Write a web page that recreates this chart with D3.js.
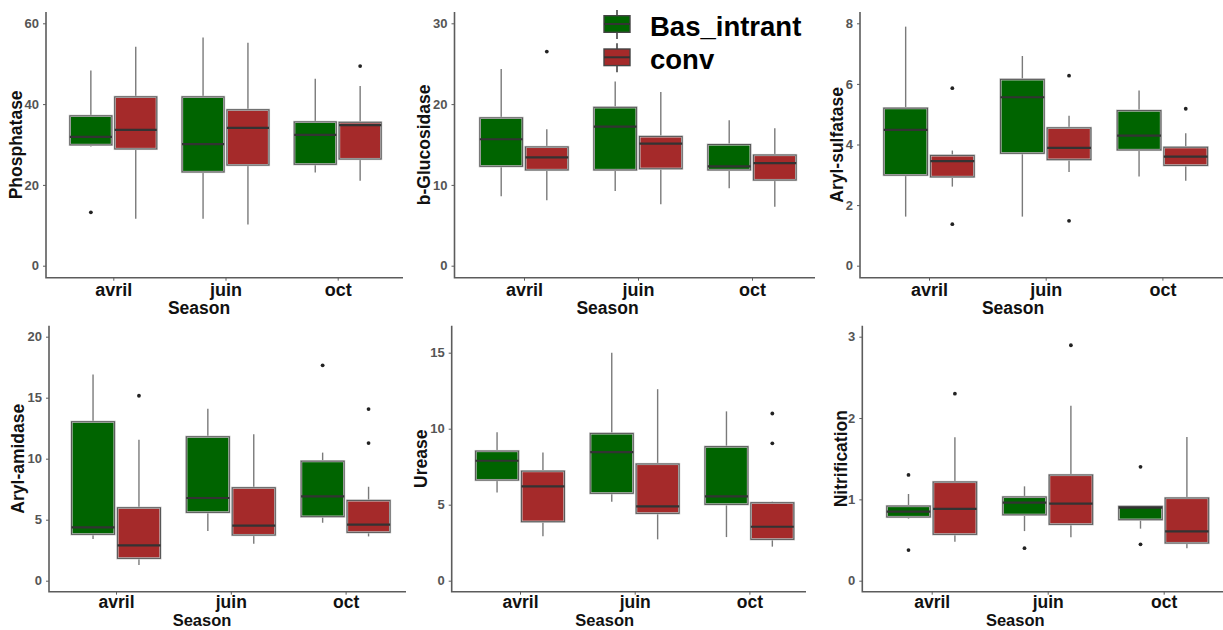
<!DOCTYPE html>
<html>
<head>
<meta charset="utf-8">
<script src="https://cdn.jsdelivr.net/npm/d3@7"></script>
<style>
  body { margin: 0; background: #fff; }
  svg { display: block; }
  text { font-family: "Liberation Sans", Arial, sans-serif; }
</style>
</head>
<body>
<svg id="chart" width="1223" height="630"></svg>
<script>
// ---- categories ----
const seasons = ["avril", "juin", "oct"];
const systems = ["Bas_intrant", "conv"];
const enzymes = ["Phosphatase", "b-Glucosidase", "Aryl-sulfatase", "Aryl-amidase", "Urease", "Nitrification"];

// ---- box statistics: [lower whisker, Q1, median, Q3, upper whisker], one row per season ----
const phosphataseBas  = [[29.5, 29.9, 31.9, 37.1, 48.3], [11.6, 23.2, 30.1, 41.8, 56.5], [23.1, 25.1, 32.4, 35.6, 46.3]];
const phosphataseConv = [[11.6, 28.9, 33.6, 41.8, 54.2], [10.2, 24.9, 34.1, 38.6, 55.2], [21.0, 26.4, 34.8, 35.5, 44.5]];
const glucosidaseBas  = [[8.6, 12.3, 15.65, 18.3, 24.35], [9.25, 11.85, 17.2, 19.6, 22.8], [9.6, 11.85, 12.3, 15.0, 18.0]];
const glucosidaseConv = [[8.1, 11.85, 13.4, 14.7, 16.9], [7.6, 12.0, 15.1, 16.0, 21.5], [7.3, 10.6, 12.7, 13.7, 17.0]];
const sulfataseBas    = [[1.62, 2.99, 4.48, 5.2, 7.89], [1.62, 3.71, 5.56, 6.15, 6.92], [2.94, 3.82, 4.29, 5.12, 5.78]];
const sulfataseConv   = [[2.61, 2.93, 3.45, 3.64, 3.8], [3.09, 3.5, 3.89, 4.55, 4.95], [2.8, 3.31, 3.6, 3.91, 4.37]];
const amidaseBas      = [[3.42, 3.8, 4.37, 13.03, 16.9], [4.07, 5.6, 6.78, 11.8, 14.1], [4.75, 5.25, 6.91, 9.8, 10.5]];
const amidaseConv     = [[1.28, 1.83, 2.9, 5.98, 11.56], [3.03, 3.74, 4.51, 7.62, 12.0], [3.63, 3.96, 4.59, 6.58, 7.7]];
const ureaseBas       = [[5.81, 6.62, 7.89, 8.53, 9.76], [5.2, 5.75, 8.46, 9.69, 15.0], [2.87, 5.02, 5.55, 8.82, 11.14]];
const ureaseConv      = [[2.92, 3.88, 6.21, 7.21, 8.44], [2.72, 4.43, 4.89, 7.68, 12.6], [2.24, 2.72, 3.55, 5.13, 5.2]];
const nitrifBas       = [[0.763, 0.783, 0.849, 0.918, 1.066], [0.61, 0.81, 0.96, 1.03, 1.16], [0.64, 0.75, 0.898, 0.914, 0.914]];
const nitrifConv      = [[0.48, 0.57, 0.882, 1.214, 1.763], [0.533, 0.693, 0.947, 1.30, 2.15], [0.40, 0.463, 0.607, 1.017, 1.767]];

// ---- outliers: [season, system, value] ----
const phosphataseOut = [["avril", "Bas_intrant", 13.2], ["oct", "conv", 49.4]];
const glucosidaseOut = [["avril", "conv", 26.5]];
const sulfataseOut   = [["avril", "conv", 5.86], ["avril", "conv", 1.37], ["juin", "conv", 6.27], ["juin", "conv", 1.48], ["oct", "conv", 5.18]];
const amidaseOut     = [["oct", "Bas_intrant", 17.65], ["avril", "conv", 15.16], ["oct", "conv", 14.07], ["oct", "conv", 11.28]];
const ureaseOut      = [["oct", "conv", 11.0], ["oct", "conv", 9.04]];
const nitrifOut      = [["avril", "Bas_intrant", 1.30], ["avril", "Bas_intrant", 0.377], ["juin", "Bas_intrant", 0.40],
                        ["oct", "Bas_intrant", 1.40], ["oct", "Bas_intrant", 0.447], ["avril", "conv", 2.30], ["juin", "conv", 2.895]];

// ---- y tick labels per panel ----
const phosphataseTicks = [0, 20, 40, 60];
const glucosidaseTicks = [0, 10, 20, 30];
const sulfataseTicks   = [0, 2, 4, 6, 8];
const amidaseTicks     = [0, 5, 10, 15, 20];
const ureaseTicks      = [0, 5, 10, 15];
const nitrifTicks      = [0, 1, 2, 3];

// ---- styling ----
const fillColors = { "Bas_intrant": "#006400", "conv": "#A52A2A" };
const axisColor = "#5c5c5c";

// panel layout (pixels): y-axis x, first category x, category step, x-axis end,
// axis top, x-axis y, y pixel of 0, y pixel of the top tick
const layout = [
  { ax: 46,    first: 113.3, step: 112.2, right: 403,  top: 12,    base: 277.7, zeroY: 265.7, topY: 23.3 },
  { ax: 454.5, first: 524,   step: 114,   right: 815,  top: 12,    base: 277.7, zeroY: 265.7, topY: 23.3 },
  { ax: 860,   first: 929,   step: 116.7, right: 1223, top: 12,    base: 277.7, zeroY: 265.7, topY: 23.3 },
  { ax: 49,    first: 116,   step: 114.8, right: 406,  top: 325.7, base: 591.7, zeroY: 580.7, topY: 336.7 },
  { ax: 451.7, first: 520,   step: 114.7, right: 806,  top: 325.7, base: 591.7, zeroY: 580.7, topY: 352.7 },
  { ax: 862.3, first: 931.7, step: 116,   right: 1223, top: 325.7, base: 591.7, zeroY: 580.7, topY: 336.7 }
];
// baseline x of the rotated y-axis titles
const titleBaseX = [21.5, 430, 843, 23.5, 426.5, 846.5];
// x-axis text per row: tick padding, tick label size, title gap below the axis, title size
const xText = [
  { pad: 3, size: 18, gap: 36, title: 17.5 },
  { pad: 3, size: 18, gap: 36, title: 17.5 },
  { pad: 3, size: 18, gap: 36, title: 17.5 },
  { pad: 0.5, size: 17.5, gap: 34.5, title: 16.5 },
  { pad: 0.5, size: 17.5, gap: 34.5, title: 16.5 },
  { pad: 0.5, size: 17.5, gap: 34.5, title: 16.5 }
];

const panels = [
  { name: enzymes[0], bas: phosphataseBas, conv: phosphataseConv, out: phosphataseOut, ticks: phosphataseTicks },
  { name: enzymes[1], bas: glucosidaseBas, conv: glucosidaseConv, out: glucosidaseOut, ticks: glucosidaseTicks },
  { name: enzymes[2], bas: sulfataseBas,   conv: sulfataseConv,   out: sulfataseOut,   ticks: sulfataseTicks },
  { name: enzymes[3], bas: amidaseBas,     conv: amidaseConv,     out: amidaseOut,     ticks: amidaseTicks },
  { name: enzymes[4], bas: ureaseBas,      conv: ureaseConv,      out: ureaseOut,      ticks: ureaseTicks },
  { name: enzymes[5], bas: nitrifBas,      conv: nitrifConv,      out: nitrifOut,      ticks: nitrifTicks }
];

const svg = d3.select("#chart");
svg.append("rect").attr("width", 1223).attr("height", 630).attr("fill", "#fff");

panels.forEach((p, i) => {
  const L = layout[i];
  const T = xText[i];
  const g = svg.append("g");

  const x = d3.scalePoint().domain(seasons).range([L.first, L.first + 2 * L.step]);
  const dodge = d3.scaleBand().domain(systems).range([-0.4 * L.step, 0.4 * L.step]);
  const boxW = 0.375 * L.step;
  const topTick = p.ticks[p.ticks.length - 1];
  const y = d3.scaleLinear().domain([0, topTick]).range([L.zeroY, L.topY]);

  const cxOf = (season, system) => x(season) + dodge(system) + dodge.bandwidth() / 2;

  // boxes
  systems.forEach(sys => {
    const stats = sys === "conv" ? p.conv : p.bas;
    seasons.forEach((s, si) => {
      const [lo, q1, med, q3, hi] = stats[si];
      const cx = cxOf(s, sys);
      const bg = g.append("g");
      bg.append("line").attr("x1", cx).attr("x2", cx).attr("y1", y(q3)).attr("y2", y(hi))
        .attr("stroke", "#7a7a7a").attr("stroke-width", 1.4);
      bg.append("line").attr("x1", cx).attr("x2", cx).attr("y1", y(q1)).attr("y2", y(lo))
        .attr("stroke", "#7a7a7a").attr("stroke-width", 1.4);
      bg.append("rect").attr("x", cx - boxW / 2).attr("y", y(q3))
        .attr("width", boxW).attr("height", y(q1) - y(q3))
        .attr("fill", fillColors[sys]).attr("stroke", "#c8c8c8").attr("stroke-width", 2.2);
      bg.append("rect").attr("x", cx - boxW / 2).attr("y", y(q3))
        .attr("width", boxW).attr("height", y(q1) - y(q3))
        .attr("fill", "none").attr("stroke", "#555").attr("stroke-width", 1);
      bg.append("line").attr("x1", cx - boxW / 2).attr("x2", cx + boxW / 2)
        .attr("y1", y(med)).attr("y2", y(med))
        .attr("stroke", "#333").attr("stroke-width", 2.2);
    });
  });

  // outliers
  g.selectAll("circle.out").data(p.out).enter().append("circle")
    .attr("cx", d => cxOf(d[0], d[1])).attr("cy", d => y(d[2]))
    .attr("r", 1.9).attr("fill", "#222");

  // y axis
  const yAxis = g.append("g").attr("transform", `translate(${L.ax},0)`)
    .call(d3.axisLeft(y).tickValues(p.ticks).tickFormat(d3.format("~g")).tickSize(3).tickPadding(4));
  yAxis.select(".domain").remove();
  yAxis.selectAll("line").attr("stroke", axisColor);
  yAxis.selectAll("text").attr("fill", "#555").attr("font-size", 13).attr("font-weight", "bold");

  // x axis
  const xAxis = g.append("g").attr("transform", `translate(0,${L.base})`)
    .call(d3.axisBottom(x).tickSize(3).tickPadding(T.pad));
  xAxis.select(".domain").remove();
  xAxis.selectAll("line").attr("stroke", axisColor);
  xAxis.selectAll("text").attr("fill", "#111").attr("font-size", T.size).attr("font-weight", "bold");

  // axis lines
  g.append("path")
    .attr("d", `M${L.ax},${L.top}V${L.base}H${L.right}`)
    .attr("fill", "none").attr("stroke", axisColor).attr("stroke-width", 1.6);

  // axis titles
  g.append("text").attr("x", L.ax + 153).attr("y", L.base + T.gap)
    .attr("text-anchor", "middle").attr("font-size", T.title).attr("font-weight", "bold").attr("fill", "#111")
    .text("Season");
  const midY = (L.top + L.base) / 2;
  g.append("text").attr("transform", `translate(${titleBaseX[i]},${midY}) rotate(-90)`)
    .attr("text-anchor", "middle").attr("font-size", 17.5).attr("font-weight", "bold").attr("fill", "#111")
    .text(p.name);
});

// legend
const legend = svg.append("g");
const legendRows = [{ sys: systems[0], cy: 24 }, { sys: systems[1], cy: 57.3 }];
legendRows.forEach(r => {
  const kx = 604, kw = 26, kh = 16.6;
  legend.append("line").attr("x1", kx + kw / 2).attr("x2", kx + kw / 2)
    .attr("y1", r.cy - 14).attr("y2", r.cy + 15).attr("stroke", "#444").attr("stroke-width", 1.6);
  legend.append("rect").attr("x", kx).attr("y", r.cy - kh / 2).attr("width", kw).attr("height", kh)
    .attr("fill", fillColors[r.sys]).attr("stroke", "#444").attr("stroke-width", 1.4);
  legend.append("line").attr("x1", kx).attr("x2", kx + kw).attr("y1", r.cy).attr("y2", r.cy)
    .attr("stroke", "#333").attr("stroke-width", 2);
  legend.append("text").attr("x", 650).attr("y", r.cy + 11.5)
    .attr("font-size", 27.5).attr("font-weight", "bold").attr("fill", "#000").text(r.sys);
});
</script>
</body>
</html>
